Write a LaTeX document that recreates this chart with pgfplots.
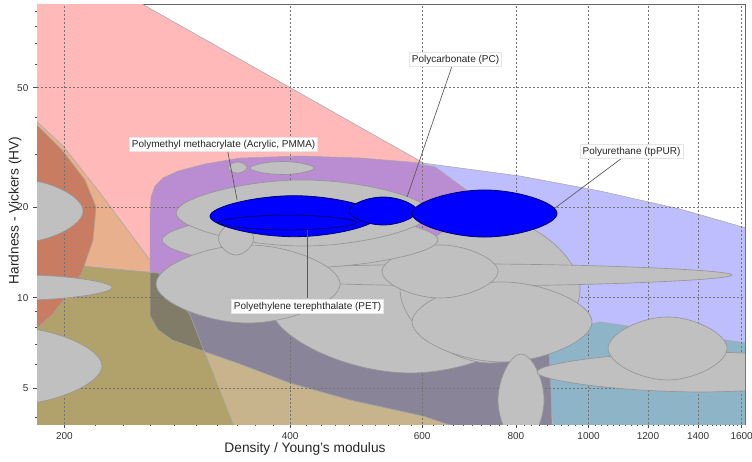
\documentclass[border=0pt]{standalone}
\usepackage{pgfplots}
\pgfplotsset{compat=1.18}
\usepackage{fontspec}
\setmainfont{Liberation Sans}
\definecolor{cPink}{RGB}{255,185,185}
\definecolor{cLav}{RGB}{190,190,255}
\definecolor{cTeal}{RGB}{142,180,200}
\definecolor{cTan}{RGB}{232,176,140}
\definecolor{cKhaki}{RGB}{200,180,140}
\definecolor{cOlive}{RGB}{176,162,106}
\definecolor{cBrown}{RGB}{200,124,98}
\definecolor{cPurple}{RGB}{186,140,210}
\definecolor{cGrayPurple}{RGB}{138,132,152}
\definecolor{cDarkOlive}{RGB}{128,124,104}
\definecolor{cEll}{RGB}{192,192,192}
\definecolor{cEllLine}{RGB}{150,150,150}
\definecolor{cBlue}{RGB}{0,0,255}
\definecolor{cBlueLine}{RGB}{0,0,110}
\pgfplotsset{
  env/.style={draw=black!35, line width=0.4pt},
  ell/.style={smooth cycle, tension=0.828, fill=cEll, draw=cEllLine, line width=0.5pt},
  bell/.style={smooth cycle, tension=0.828, fill=cBlue, draw=cBlueLine, line width=0.6pt},
  gridl/.style={black!55, line width=0.45pt, dash pattern=on 1.5pt off 1.5pt},
  leader/.style={black!65, line width=0.5pt},
}
\tikzset{lab/.style={fill=white, draw=black!10, line width=0.3pt, inner sep=1.8pt, font=\fontsize{7.5}{9}\selectfont, text=black!85}}
\begin{document}
\begin{tikzpicture}
\begin{axis}[
  at={(27.75pt,27.75pt)}, anchor=south west,
  scale only axis, width=531pt, height=314.6pt,
  xmode=log, ymode=log,
  xmin=183.9, xmax=1616.7, ymin=3.803, ymax=94.58,
  xtick={200,400,600,800,1000,1200,1400,1600},
  xticklabels={200,400,600,800,1000,1200,1400,1600},
  minor xtick={200,220,...,1600},
  ytick={5,10,20,50}, yticklabels={5,10,20,50},
  minor ytick={4,6,7,8,9,30,40,60,70,80,90},
  tick pos=left, tick align=outside,
  major tick length=3pt, minor tick length=1.6pt,
  tick style={black!70, line width=0.5pt},
  axis line style={draw=black!60, line width=0.75pt},
  ticklabel style={font=\fontsize{7.5}{9}\selectfont, text=black!80},
  /pgf/number format/assume math mode=true,
  xlabel={Density / Young's modulus}, ylabel={Hardness - Vickers (HV)},
  label style={font=\fontsize{10.3}{12}\selectfont, text=black!85},
  xlabel style={at={(axis description cs:0.3785,-0.0596)}, anchor=center},
  ylabel style={at={(axis description cs:-0.0311,0.509)}, anchor=center},
  clip=true,
]
% ---- envelopes ----
\addplot[env, fill=cPink] coordinates {(170,100) (244.8,100) (633.8,26.15) (412.4,3.6) (170,3.6)} -- cycle;
\addplot[env, fill=cLav] coordinates {(587.0,28.30) (810.3,25.42) (1035.9,22.66) (1324.2,19.74) (1692.9,16.56) (1692.9,6.861) (1035.9,8.245) (861.6,7.815) (614.6,9.834)} -- cycle;
\addplot[env, fill=cTan] coordinates {(174.6,43.47) (199.2,31.99) (223.2,22.32) (261.8,13.06) (294.2,8.766) (338.6,3.6) (174.6,3.6)} -- cycle;
\addplot[env, fill=cKhaki] coordinates {(174.6,13.32) (265.8,12.09) (877.5,9.177) (893.9,3.6) (174.6,3.6)} -- cycle;
\addplot[env, fill=cOlive] coordinates {(174.6,13.32) (267.1,12.07) (294.2,8.766) (338.6,3.6) (174.6,3.6)} -- cycle;
\addplot[env, fill=cBrown] coordinates {(174.6,42.15) (183.9,37.57) (198.6,31.03) (213.1,24.66) (220.4,20.05) (218.4,15.57) (211.2,12.19) (203.5,10.46) (192.6,8.766) (183.9,7.936) (174.6,7.350)} -- cycle;
\addplot[env, fill=cPurple] coordinates {(260.2,18.86) (261.0,21.64) (264.2,23.55) (270.8,25.04) (283.6,26.42) (308.0,27.87) (343.0,29.18) (412.4,29.63) (495.9,29.18) (577.9,28.30) (624.3,27.24) (716.7,21.15) (827.9,14.42) (874.8,9.834) (888.4,7.239) (893.9,3.6) (707.9,3.6) (647.6,3.803) (601.6,4.044) (480.8,4.572) (399.9,5.207) (343.0,6.023) (303.4,6.705) (278.4,7.239) (266.7,7.815) (260.2,8.699)} -- cycle;
\addplot[env, fill=cGrayPurple] coordinates {(260.2,12.15) (877.5,9.177) (888.4,7.239) (893.9,3.6) (707.9,3.6) (647.6,3.803) (601.6,4.044) (480.8,4.572) (399.9,5.207) (343.0,6.023) (303.4,6.705) (278.4,7.239) (266.7,7.815) (260.2,8.699)} -- cycle;
\addplot[env, fill=cDarkOlive] coordinates {(260.2,12.15) (267.1,12.07) (294.2,8.766) (307.1,6.653) (303.4,6.705) (278.4,7.239) (266.7,7.815) (260.2,8.699)} -- cycle;
\addplot[env, fill=cTeal] coordinates {(882.9,7.637) (1035.9,8.309) (1692.9,6.966) (1692.9,3.6) (896.7,3.6)} -- cycle;
% ---- grid ----
\pgfplotsinvokeforeach{200,400,600,800,1000,1200,1400,1600}{\addplot[gridl] coordinates {(#1,3.803) (#1,94.58)};}
\pgfplotsinvokeforeach{5,10,20,50}{\addplot[gridl] coordinates {(183.9,#1) (1616.7,#1)};}
% ---- grey bubbles ----
\addplot[ell] coordinates {(376.1,9.465) (578.1,15.93) (888.5,9.465) (578.1,5.622)};
\addplot[ell] coordinates {(560.6,10.62) (739.0,18.57) (974.2,10.62) (739.0,6.070)};
\addplot[ell] coordinates {(310.9,11.91) (695.0,12.96) (1553.4,11.91) (695.0,10.95)};
\addplot[ell] coordinates {(581.6,8.309) (766.7,11.29) (1010.7,8.309) (766.7,6.116)};
\addplot[ell] coordinates {(530.4,12.23) (633.8,14.99) (757.3,12.23) (633.8,9.986)};
\addplot[ell] coordinates {(270.0,15.57) (412.4,19.30) (629.9,15.57) (412.4,12.57)};
\addplot[ell] coordinates {(265.0,11.12) (351.5,14.99) (466.3,11.12) (351.5,8.245)};
\addplot[ell] coordinates {(281.8,19.15) (416.2,24.66) (614.7,19.15) (416.2,14.87)};
\addplot[ell] coordinates {(321.1,15.75) (338.8,17.87) (357.5,15.75) (338.8,13.88)};
\addplot[ell] coordinates {(330.6,27.13) (340.4,28.30) (350.5,27.13) (340.4,26.01)};
\addplot[ell] coordinates {(353.7,27.03) (390.2,28.41) (430.5,27.03) (390.2,25.72)};
\addplot[ell] coordinates {(757.3,4.572) (812.8,6.503) (872.2,4.572) (812.8,3.213)};
\addplot[ell] coordinates {(853.7,5.665) (1408.1,6.603) (2322.5,5.665) (1408.1,4.861)};
\addplot[ell] coordinates {(1061.6,6.783) (1274.4,8.634) (1529.8,6.783) (1274.4,5.329)};
\addplot[ell] coordinates {(143.9,19.44) (174.6,24.75) (211.8,19.44) (174.6,15.28)};
\addplot[ell] coordinates {(135.7,10.82) (177.3,11.91) (231.5,10.82) (177.3,9.834)};
\addplot[ell] coordinates {(127.6,5.932) (169.3,7.997) (224.5,5.932) (169.3,4.399)};
% ---- highlighted bubbles ----
\addplot[bell] coordinates {(312.8,18.69) (404.9,21.86) (524.0,18.69) (404.9,15.97)};
\addplot[bell] coordinates {(320.6,17.80) (396.9,18.86) (491.2,17.80) (396.9,16.81)};
\addplot[bell] coordinates {(479.3,19.44) (532.1,21.64) (590.6,19.44) (532.1,17.47)};
\addplot[bell] coordinates {(581.6,19.08) (726.6,22.84) (907.8,19.08) (726.6,15.93)};
% ---- leaders ----
\addplot[leader] coordinates {(329.6,31.50) (339.9,21.15)};
\addplot[leader] coordinates {(657.6,59.04) (572.7,21.64)};
\addplot[leader] coordinates {(1108.2,29.18) (902.2,19.90)};
\addplot[leader] coordinates {(421.3,16.81) (421.3,9.986)};
\node[lab] at (axis cs:326.1,32.36) {Polymethyl methacrylate (Acrylic, PMMA)};
\node[lab] at (axis cs:664.7,62.06) {Polycarbonate (PC)};
\node[lab] at (axis cs:1141.0,30.67) {Polyurethane (tpPUR)};
\node[lab] at (axis cs:422.0,9.356) {Polyethylene terephthalate (PET)};
\end{axis}
\pgfresetboundingbox
\path[use as bounding box] (0,0) rectangle (564pt,345.75pt);
\end{tikzpicture}
\end{document}
